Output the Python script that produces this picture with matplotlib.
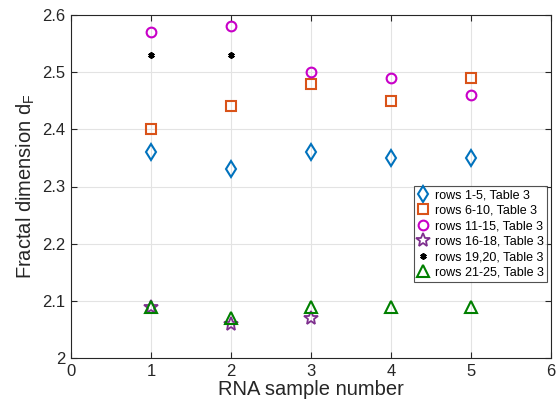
import matplotlib
matplotlib.use("Agg")
import matplotlib.pyplot as plt

plt.rcParams['font.family'] = ['Liberation Sans', 'DejaVu Sans']
plt.rcParams['mathtext.fontset'] = 'custom'
plt.rcParams['mathtext.rm'] = 'Liberation Sans'
plt.rcParams['mathtext.it'] = 'Liberation Sans'

x_all = [1, 2, 3, 4, 5]
rows_1_5 = [2.36, 2.33, 2.36, 2.35, 2.35]
rows_6_10 = [2.40, 2.44, 2.48, 2.45, 2.49]
rows_11_15 = [2.57, 2.58, 2.50, 2.49, 2.46]
x_16_18 = [1, 2, 3]
rows_16_18 = [2.09, 2.06, 2.07]
x_19_20 = [1, 2]
rows_19_20 = [2.53, 2.53]
rows_21_25 = [2.09, 2.07, 2.09, 2.09, 2.09]
labels = ['rows 1-5, Table 3', 'rows 6-10, Table 3', 'rows 11-15, Table 3',
          'rows 16-18, Table 3', 'rows 19,20, Table 3', 'rows 21-25, Table 3']

fig = plt.figure(figsize=(5.57, 4.05), dpi=100)
ax = fig.add_axes([71/557, 1-358/405, 480/557, 343/405])

ax.plot(x_all, rows_1_5, linestyle='none', marker='d', ms=7.8, mfc='none', mec='#0072BD', mew=1.5, label=labels[0])
ax.plot(x_all, rows_6_10, linestyle='none', marker='s', ms=6.5, mfc='none', mec='#D95319', mew=1.5, label=labels[1])
ax.plot(x_all, rows_11_15, linestyle='none', marker='o', ms=7, mfc='none', mec='#C800C8', mew=1.5, label=labels[2])
ax.plot(x_16_18, rows_16_18, linestyle='none', marker='*', ms=10, mfc='none', mec='#7E2F8E', mew=1.3, label=labels[3])
ax.plot(x_19_20, rows_19_20, linestyle='none', marker=(6, 2, 0), ms=4.5, color='black', mew=1.4, label=labels[4])
ax.plot(x_all, rows_21_25, linestyle='none', marker='^', ms=9, mfc='none', mec='#008000', mew=1.5, label=labels[5])

ax.set_xlim(0, 6)
ax.set_ylim(2, 2.6)
ax.set_xticks(range(0, 7))
ax.set_yticks([2, 2.1, 2.2, 2.3, 2.4, 2.5, 2.6])
ax.set_yticklabels(['2', '2.1', '2.2', '2.3', '2.4', '2.5', '2.6'])
ax.grid(True, color='#e3e3e3', linewidth=0.8)
ax.set_axisbelow(True)
ax.tick_params(direction='in', top=True, right=True, labelsize=12, length=4, pad=4,
               color='#262626', labelcolor='#262626')
for s in ax.spines.values():
    s.set_color('#262626')
    s.set_linewidth(0.8)
ax.set_xlabel('RNA sample number', fontsize=14.5, color='#262626', labelpad=1)
ax.set_ylabel('Fractal dimension d$_F$', fontsize=14.5, color='#262626', labelpad=4)

leg = ax.legend(loc='lower right', bbox_to_anchor=(0.992, 0.222), fontsize=9, frameon=True,
                fancybox=False, edgecolor='#262626', handlelength=1.0, handletextpad=0.45,
                borderpad=0.25, labelspacing=0.28, borderaxespad=0.0)
leg.get_frame().set_linewidth(0.8)

fig.savefig('out.png', dpi=100)
